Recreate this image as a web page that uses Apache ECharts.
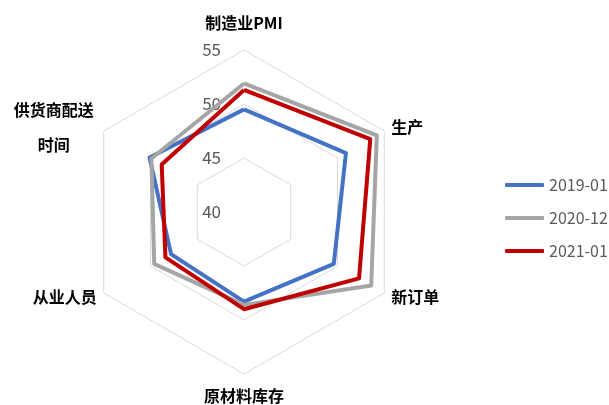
<!DOCTYPE html>
<html><head><meta charset="utf-8">
<script src="https://cdn.jsdelivr.net/npm/echarts@6/dist/echarts.min.js"></script>
<style>html,body{margin:0;padding:0;background:#fff}#c{width:609px;height:405px}</style>
</head><body><div id="c"></div>
<script>
// categories in clockwise order starting at top
const indicators = ['制造业PMI', '生产', '新订单', '原材料库存', '从业人员', '供货商配送\n时间'];
const seriesNames = ['2019-01', '2020-12', '2021-01'];
const v2019_01 = [49.5, 50.9, 49.6, 48.3, 47.8, 50.1];
const v2020_12 = [51.9, 54.2, 53.6, 48.6, 49.6, 49.9];
const v2021_01 = [51.3, 53.5, 52.3, 49.0, 48.4, 48.8];
const tickMin = 40, tickMax = 55;
const colors = ['#4472C4', '#A5A5A5', '#C00000'];
const font = '"Noto Sans CJK SC", "Noto Sans", sans-serif';

// ECharts radar runs counter-clockwise: reorder so the picture reads clockwise
const order = [0, 5, 4, 3, 2, 1];
const nameCfg = {
  0: {nameGap: 27, ts: {align: 'center', verticalAlign: 'middle'}},
  1: {nameGap: 8, ts: {align: 'left', verticalAlign: 'middle'}},
  2: {nameGap: 8, ts: {align: 'left', verticalAlign: 'middle'}},
  3: {nameGap: 22, ts: {align: 'center', verticalAlign: 'middle'}},
  4: {nameGap: 8, ts: {align: 'right', verticalAlign: 'middle'}},
  5: {nameGap: 8, ts: {align: 'right', verticalAlign: 'middle'}}
};
const values = [v2019_01, v2020_12, v2021_01];

const chart = echarts.init(document.getElementById('c'), null, {renderer: 'canvas'});
chart.setOption({
  animation: false,
  color: colors,
  legend: {
    orient: 'vertical', left: 500, top: 172,
    itemWidth: 39, itemHeight: 4, itemGap: 17, icon: 'roundRect',
    textStyle: {fontFamily: font, fontSize: 16, color: '#595959'},
    data: seriesNames
  },
  radar: {
    center: [244, 212], radius: 162, startAngle: 90, shape: 'polygon',
    splitNumber: 3,
    axisName: {
      color: '#000', fontFamily: font, fontSize: 16, fontWeight: 'bold', lineHeight: 35,
      formatter: function (n) {
        if (n.indexOf('\n') >= 0) {
          return n.split('\n').map(s => '{w|' + s + '}').join('\n');
        }
        return n;
      },
      rich: {w: {width: 86, align: 'center', fontFamily: font, fontSize: 16, fontWeight: 'bold', color: '#000', lineHeight: 35}}
    },
    indicator: order.map((k, j) => {
      const o = {name: indicators[k], min: tickMin, max: tickMax, nameGap: nameCfg[k].nameGap, nameTextStyle: nameCfg[k].ts};
      if (j !== 0) o.axisLabel = {show: false};
      return o;
    }),
    axisLine: {show: false},
    axisTick: {show: false},
    splitArea: {show: false},
    splitLine: {lineStyle: {color: '#D9D9D9', width: 1}},
    axisLabel: {show: true, color: '#595959', fontFamily: font, fontSize: 17, margin: 23}
  },
  series: [{
    type: 'radar', symbol: 'none',
    data: seriesNames.map((s, i) => ({
      name: s, value: order.map(k => values[i][k]),
      lineStyle: {color: colors[i], width: 4},
      itemStyle: {color: colors[i]}
    }))
  }]
});
</script></body></html>
